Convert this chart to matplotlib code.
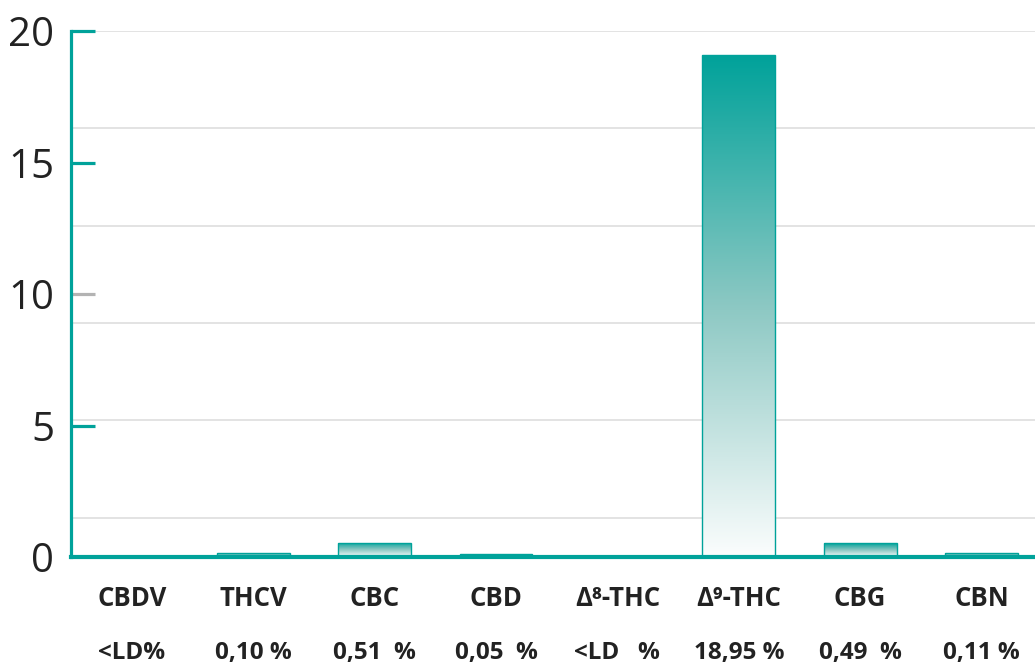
import numpy as np
import matplotlib.pyplot as plt
from matplotlib.colors import LinearSegmentedColormap

# data
categories = ['CBDV', 'THCV', 'CBC', 'CBD', 'Δ⁸-THC', 'Δ⁹-THC', 'CBG', 'CBN']
values = [0.05, 0.15, 0.55, 0.12, 0.05, 19.1, 0.52, 0.15]
value_labels = ['<LD%', '0,10 %', '0,51  %', '0,05  %', '<LD   %', '18,95 %', '0,49  %', '0,11 %']
yticks = [0, 5, 10, 15, 20]
grid_levels = [1.5, 5.2, 8.9, 12.6, 16.3, 20]

teal = '#00a29a'
fonts = ['Open Sans', 'DejaVu Sans']

fig = plt.figure(figsize=(10.35, 6.64), dpi=100)
ax = fig.add_axes([0.0686, 0.1611, 0.9314, 0.7922])

x = np.arange(len(categories))
ax.set_xlim(-0.5, 7.44)
ax.set_ylim(0, 20)

for g in grid_levels:
    ax.axhline(g, color='#dedede', lw=1.2, zorder=0)

cmap = LinearSegmentedColormap.from_list('tealfade', ['#fbfdfd', '#8cc8c3', teal])
grad = np.linspace(0, 1, 256).reshape(-1, 1)

bars = ax.bar(x, values, width=0.6, facecolor='none', edgecolor=teal, lw=1, zorder=3)
for b in bars:
    x0, y0 = b.get_x(), b.get_y()
    w, h = b.get_width(), b.get_height()
    im = ax.imshow(grad, cmap=cmap, origin='lower', aspect='auto',
                   extent=[x0, x0 + w, y0, y0 + h], zorder=2)
    im.set_clip_path(b)

# spines
for s in ['top', 'right']:
    ax.spines[s].set_visible(False)
ax.spines['left'].set_color(teal)
ax.spines['left'].set_linewidth(2.3)
ax.spines['bottom'].set_color(teal)
ax.spines['bottom'].set_linewidth(3)
ax.spines['bottom'].set_zorder(4)

ax.set_xticks([])
ax.set_yticks(yticks)
ax.set_yticklabels([str(t) for t in yticks], fontsize=29, color='#222222', family=fonts)
ax.tick_params(axis='y', direction='in', length=17, width=2.3, color=teal, pad=12)
ticks = ax.yaxis.get_major_ticks()
ticks[2].tick1line.set_markeredgecolor('#b3b3b3')
ticks[0].tick1line.set_visible(False)

tr = ax.get_xaxis_transform()
for xi, cat, lab in zip(x, categories, value_labels):
    ax.text(xi, -0.078, cat, transform=tr, ha='center', va='center',
            fontsize=18.5, fontweight='bold', color='#222222', family=fonts)
    ax.text(xi, -0.182, lab, transform=tr, ha='center', va='center',
            fontsize=17.5, fontweight='bold', color='#222222', family=fonts)

fig.savefig('out.png', dpi=100)
